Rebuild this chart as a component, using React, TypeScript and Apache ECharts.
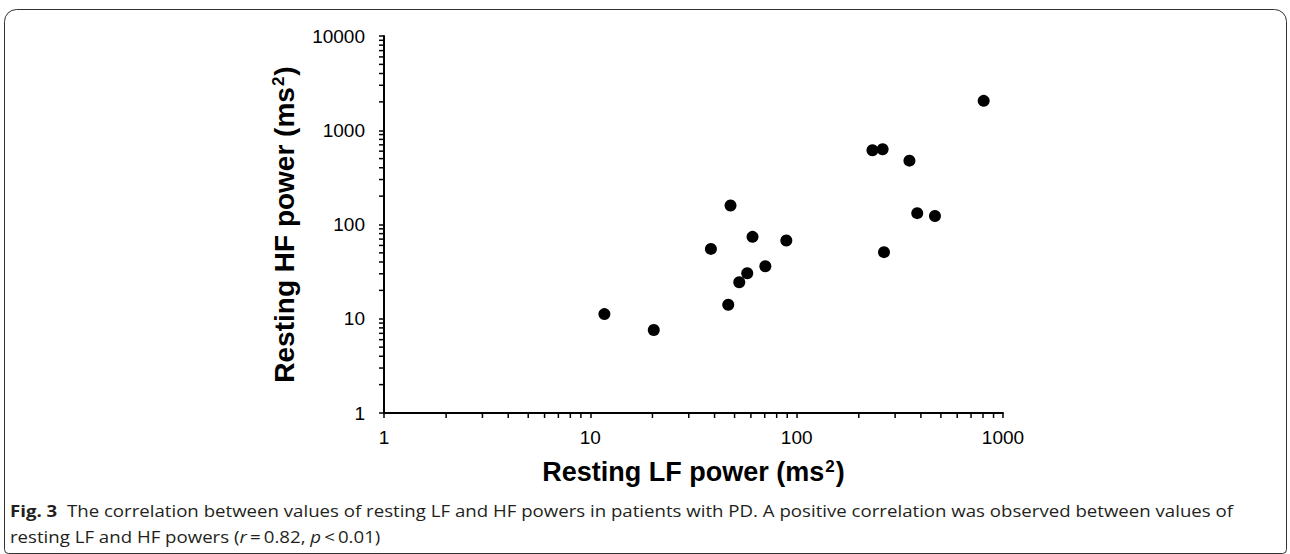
import React, { useEffect, useRef } from "react";
import * as echarts from "echarts";

// LF (x) and HF (y) resting powers, ms^2
const lfPower = [11.7, 20.3, 46.6, 806, 233, 261, 352, 47.8, 384, 468, 61.1, 89.1, 38.4, 265, 70.5, 57.6, 52.7];
const hfPower = [11.2, 7.6, 14.1, 2050, 613, 628, 476, 159, 132, 123, 74, 67.6, 55.1, 50.9, 36.1, 30.4, 24.4];

const xDecades = [1, 10, 100];
const yDecades = [1, 10, 100, 1000];
const minorMultipliers = [2, 3, 4, 5, 6, 7, 8, 9];

const xTitle = "Resting LF power (ms{sup|2})";
const yTitle = "Resting HF power (ms{sup|2})";
const captionLine1 = "The correlation between values of resting LF and HF powers in patients with PD. A positive correlation was observed between values of";
const captionLine2 = "resting LF and HF powers ({i|r}\u2009=\u20090.82, {i|p}\u2009<\u20090.01)";

const AX_FONT = "Liberation Sans, Arial, sans-serif";
const CAP_FONT = "Open Sans, Noto Sans, sans-serif";

export default function App() {
  const ref = useRef<HTMLDivElement>(null);
  useEffect(() => {
    document.body.style.margin = "0";
    const chart = echarts.init(ref.current!, null, { renderer: "svg" });
    const points = lfPower.map((x, i) => [x, hfPower[i]]);
    const xMinor: number[][] = [];
    xDecades.forEach((d) => minorMultipliers.forEach((m) => xMinor.push([d * m, 1])));
    const yMinor: number[][] = [];
    yDecades.forEach((d) => minorMultipliers.forEach((m) => yMinor.push([1, d * m])));

    const tickLen = 5;
    const titleStyle = (size: number) => ({
      fontFamily: AX_FONT,
      fontWeight: "bold",
      fontSize: size,
      color: "#000",
      rich: {
        sup: { fontFamily: AX_FONT, fontWeight: "bold", fontSize: Math.round(size * 0.62), color: "#000", verticalAlign: "top", padding: [0, 1, 0, 1] },
      },
    });
    chart.setOption({
      animation: false,
      backgroundColor: "#fff",
      grid: { left: 384, right: 287, top: 36, bottom: 141, containLabel: false },
      xAxis: {
        type: "log",
        logBase: 10,
        min: 1,
        max: 1000,
        name: xTitle,
        nameLocation: "middle",
        nameGap: 45,
        nameTextStyle: titleStyle(27),
        axisLine: { lineStyle: { color: "#000", width: 2 } },
        axisTick: { show: true, length: tickLen, lineStyle: { color: "#000", width: 1.5 } },
        axisLabel: { margin: 15, fontFamily: AX_FONT, fontSize: 19, color: "#000", formatter: (v: number) => String(v) },
        splitLine: { show: false },
      },
      yAxis: {
        type: "log",
        logBase: 10,
        min: 1,
        max: 10000,
        name: yTitle,
        nameLocation: "middle",
        nameGap: 86,
        nameRotate: 90,
        nameTextStyle: titleStyle(28),
        axisLine: { lineStyle: { color: "#000", width: 2 } },
        axisTick: { show: true, length: tickLen, lineStyle: { color: "#000", width: 1.5 } },
        axisLabel: { margin: 19, fontFamily: AX_FONT, fontSize: 19, color: "#000", formatter: (v: number) => String(v) },
        splitLine: { show: false },
      },
      series: [
        {
          type: "scatter",
          data: points,
          symbol: "circle",
          symbolSize: 12,
          itemStyle: { color: "#000", opacity: 1 },
          z: 5,
        },
        {
          type: "custom",
          silent: true,
          clip: false,
          data: xMinor,
          renderItem: (params: any, api: any) => {
            const p = api.coord([api.value(0), api.value(1)]);
            return {
              type: "line",
              shape: { x1: p[0], y1: p[1], x2: p[0], y2: p[1] + tickLen },
              style: { stroke: "#000", lineWidth: 1.5 },
            };
          },
        },
        {
          type: "custom",
          silent: true,
          clip: false,
          data: yMinor,
          renderItem: (params: any, api: any) => {
            const p = api.coord([api.value(0), api.value(1)]);
            return {
              type: "line",
              shape: { x1: p[0] - tickLen, y1: p[1], x2: p[0], y2: p[1] },
              style: { stroke: "#000", lineWidth: 1.5 },
            };
          },
        },
      ],
      graphic: [
        {
          type: "rect",
          shape: { x: 4.5, y: 9.5, width: 1282, height: 544, r: [12, 12, 4, 4] },
          style: { fill: "none", stroke: "#333", lineWidth: 1 },
          silent: true,
        },
        {
          type: "text",
          x: 10,
          y: 510,
          scaleX: 1.13,
          style: {
            text: "{b|Fig. 3}  " + captionLine1,
            verticalAlign: "middle",
            fontFamily: CAP_FONT,
            fontSize: 16.5,
            fill: "#231f20",
            rich: {
              b: { fontFamily: CAP_FONT, fontWeight: "bold", fontSize: 16.5, fill: "#231f20" },
            },
          },
        },
        {
          type: "text",
          x: 10,
          y: 536,
          scaleX: 1.13,
          style: {
            text: captionLine2,
            verticalAlign: "middle",
            fontFamily: CAP_FONT,
            fontSize: 16.5,
            fill: "#231f20",
            rich: {
              i: { fontFamily: CAP_FONT, fontStyle: "italic", fontSize: 16.5, fill: "#231f20" },
            },
          },
        },
      ],
    });
    return () => chart.dispose();
  }, []);
  return <div ref={ref} style={{ width: 1290, height: 554 }} />;
}
